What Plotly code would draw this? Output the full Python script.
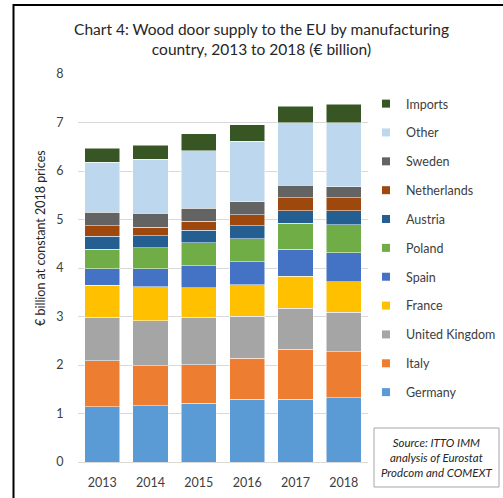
import plotly.graph_objects as go

years = ["2013", "2014", "2015", "2016", "2017", "2018"]

# Stacked segments, € billion at constant 2018 prices (bottom to top)
germany = [1.14, 1.16, 1.21, 1.29, 1.29, 1.33]
italy = [0.95, 0.82, 0.80, 0.85, 1.04, 0.94]
united_kingdom = [0.89, 0.93, 0.97, 0.87, 0.84, 0.82]
france = [0.66, 0.70, 0.61, 0.64, 0.66, 0.63]
spain = [0.34, 0.37, 0.46, 0.48, 0.56, 0.59]
poland = [0.41, 0.44, 0.47, 0.47, 0.53, 0.58]
austria = [0.26, 0.25, 0.26, 0.27, 0.26, 0.29]
netherlands = [0.22, 0.17, 0.18, 0.23, 0.27, 0.27]
sweden = [0.28, 0.29, 0.27, 0.27, 0.26, 0.23]
other = [1.03, 1.11, 1.19, 1.24, 1.29, 1.32]
imports = [0.29, 0.29, 0.35, 0.34, 0.34, 0.38]

series_names = ["Germany", "Italy", "United Kingdom", "France", "Spain", "Poland",
                "Austria", "Netherlands", "Sweden", "Other", "Imports"]
series_values = [germany, italy, united_kingdom, france, spain, poland,
                 austria, netherlands, sweden, other, imports]
series_colors = ["#5B9BD5", "#ED7D31", "#A5A5A5", "#FFC000", "#4472C4", "#70AD47",
                 "#255E91", "#9E480E", "#636363", "#BDD7EE", "#375623"]

TEXT = "#404040"
FONT = "Lato"

fig = go.Figure()
n = len(series_names)
for i, (name, vals, col) in enumerate(zip(series_names, series_values, series_colors)):
    rank = n - i  # top of the stack listed first
    fig.add_trace(go.Bar(
        x=years, y=vals, name=name, legendgroup=name, showlegend=False,
        legendrank=rank,
        marker=dict(color=col, line=dict(color="white", width=0.5)),
    ))
    # small square legend key
    fig.add_trace(go.Scatter(
        x=[None], y=[None], mode="markers", name=name, legendgroup=name,
        legendrank=rank,
        marker=dict(symbol="square", size=8, color=col),
    ))

# plot area in pixels: x 78..368, y 74..462
L, R, T, B = 78, 368, 74, 462
W, H = 503, 498
def px(x):
    return (x - L) / (R - L)
def py(y):
    return (B - y) / (B - T)

fig.update_layout(
    width=W, height=H,
    margin=dict(l=L, r=W - R, t=T, b=H - B, autoexpand=False),
    paper_bgcolor="white", plot_bgcolor="white",
    barmode="stack", bargap=0.275,
    font=dict(family=FONT, size=12.5, color=TEXT),
    title=dict(
        text="Chart 4: Wood door supply to the EU by manufacturing<br>country, 2013 to 2018 (€ billion)",
        x=261.5 / W, xanchor="center", y=1 - 35 / H, yanchor="middle",
        xref="container", yref="container",
        font=dict(family=FONT, size=15.5, color="#262626"),
    ),
    xaxis=dict(
        showgrid=False, showline=False, zeroline=False,
        ticks="outside", ticklen=9, tickcolor="rgba(0,0,0,0)",
        tickfont=dict(size=12.5, color=TEXT),
    ),
    yaxis=dict(
        range=[0, 8], dtick=1, showgrid=True, gridcolor="#d9d9d9", gridwidth=1,
        zeroline=True, zerolinecolor="#d9d9d9", zerolinewidth=1, showline=False,
        ticks="outside", ticklen=11, tickcolor="rgba(0,0,0,0)",
        tickfont=dict(size=12.5, color=TEXT),
    ),
    legend=dict(
        x=px(366), xanchor="left", y=py(89), yanchor="top",
        traceorder="grouped", tracegroupgap=9.6,
        font=dict(size=12.5, color=TEXT), bgcolor="rgba(0,0,0,0)",
        itemwidth=30,
    ),
    showlegend=True,
)

# y-axis title
fig.add_annotation(
    text="€ billion at constant 2018 prices", textangle=-90,
    xref="paper", yref="paper", x=px(40), y=py(238),
    xanchor="center", yanchor="middle",
    showarrow=False, font=dict(size=12.5, color="#262626"),
)

# source note box
fig.add_shape(type="rect", xref="paper", yref="paper",
              x0=px(374), x1=px(499), y0=py(487), y1=py(428),
              line=dict(color="#a6a6a6", width=1), fillcolor="white")
fig.add_annotation(
    text="<i>Source: ITTO IMM<br>analysis of Eurostat<br>Prodcom and COMEXT</i>",
    xref="paper", yref="paper", x=px(436.5), y=py(457.5),
    xanchor="center", yanchor="middle",
    showarrow=False, align="center", font=dict(size=11.5, color="#262626"),
)

# outer frame lines (top and left)
fig.add_shape(type="line", xref="paper", yref="paper",
              x0=px(13), x1=px(503), y0=py(5), y1=py(5),
              line=dict(color="black", width=2))
fig.add_shape(type="line", xref="paper", yref="paper",
              x0=px(13.5), x1=px(13.5), y0=py(4), y1=py(500),
              line=dict(color="black", width=2))

fig.write_html("out.html")
